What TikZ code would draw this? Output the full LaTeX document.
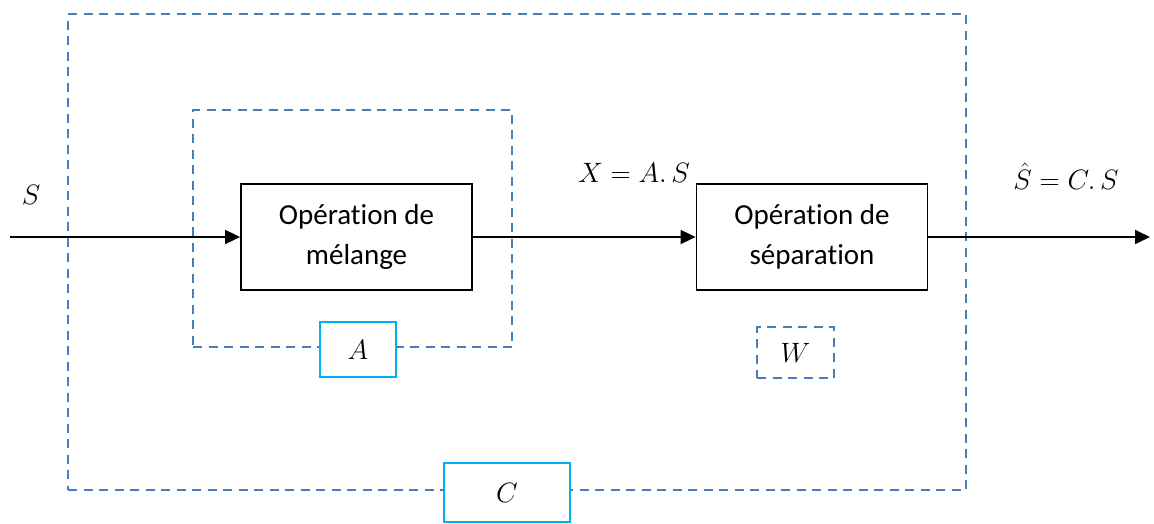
\documentclass[tikz,border=0pt]{standalone}
\usepackage{fix-cm}
\usepackage{fontspec}
\setmainfont[Ligatures={NoCommon}]{Carlito}
\usetikzlibrary{arrows.meta}
\definecolor{dblue}{RGB}{74,126,187}
\definecolor{cyanb}{RGB}{0,176,240}
\tikzset{
  dbox/.style={draw=dblue, line width=2.5pt, dash pattern=on 9pt off 6.5pt, rectangle, inner sep=0pt},
  opbox/.style={draw=black, line width=1.8pt, fill=white, rectangle, inner sep=0pt, minimum width=231pt, minimum height=106pt, align=center, font=\fontsize{29}{40}\selectfont},
  cbox/.style={draw=cyanb, line width=1.8pt, fill=white, rectangle, inner sep=0pt, font=\fontsize{28}{32}\selectfont},
  mlabel/.style={inner sep=0pt, font=\fontsize{28}{32}\selectfont},
  conn/.style={line width=1.8pt, -{Triangle[length=15pt,width=14pt]}},
  link/.style={line width=1.8pt}
}
\begin{document}
\begin{tikzpicture}[x=1pt,y=-1pt]
\useasboundingbox (0,0) rectangle (1154,523);
\node[dbox, minimum width=898pt, minimum height=476pt] (outer) at (517,252) {};
\node[dbox, minimum width=319pt, minimum height=237pt] (inner) at (352.5,228.5) {};
\node[opbox] (mel) at (356.5,237) {Opération de\\mélange};
\node[opbox] (sep) at (812,237) {Opération de\\séparation};
\node[cbox, minimum width=76pt, minimum height=55pt] (A) at (358,349.5) {$A$};
\node[dbox, minimum width=77pt, minimum height=51pt, font=\fontsize{28}{32}\selectfont] (W) at (795.5,352.5) {$W$};
\node[cbox, minimum width=126pt, minimum height=59pt] (C) at (507,492.5) {$C$};
\coordinate (in) at (10,237);
\coordinate (out) at (1150,237);
\draw[conn] (in) -- (mel.west);
\draw[conn] (mel.east) -- (sep.west);
\draw[conn] (sep.east) -- (out);
\node[mlabel] (lS) at (31,195) {$S$};
\node[mlabel] (lX) at (634,173) {$X=A.\,S$};
\node[mlabel] (lY) at (1066,176) {$\hat{S}=C.\,S$};
\end{tikzpicture}
\end{document}
